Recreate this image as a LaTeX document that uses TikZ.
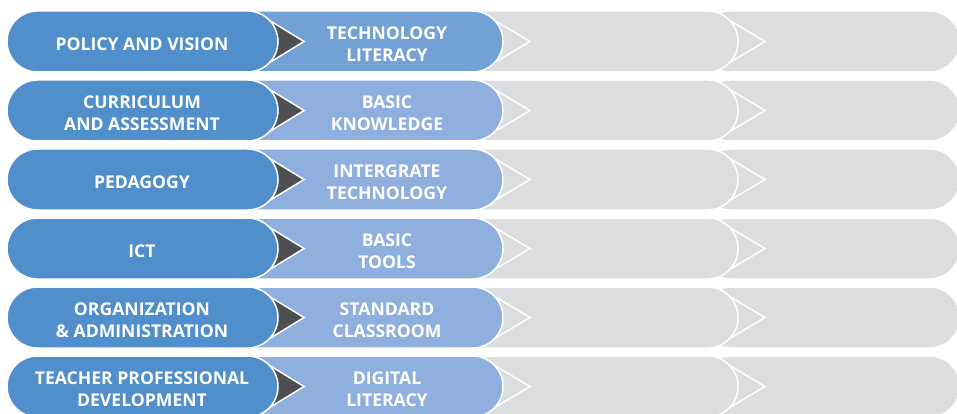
\documentclass[tikz,border=0pt]{standalone}
\usepackage{fontspec}
\setmainfont{Open Sans}

\definecolor{deepblue}{RGB}{80,142,204}
\definecolor{midblue}{RGB}{114,161,214}
\definecolor{paleblue}{RGB}{143,176,222}
\definecolor{lightgrey}{RGB}{220,221,223}
\definecolor{darkgrey}{RGB}{77,79,83}

\begin{document}
\begin{tikzpicture}[x=1pt,y=-1pt,
  pill/.style={draw=white,line width=1.5pt,rounded corners=30.5pt},
  tip/.style={draw=white,line width=1.5pt,line join=miter},
  lbl/.style={text=white,font=\bfseries\fontsize{17.6}{22}\selectfont,align=center,inner sep=0pt}]

\clip (0,0) rectangle (957,414);

\foreach \r/\mid in {0/midblue,1/paleblue,2/paleblue,3/paleblue,4/paleblue,5/paleblue}{
  \pgfmathsetmacro{\t}{11+69*\r}
  \pgfmathsetmacro{\c}{\t+30.5}
  \fill[pill,fill=lightgrey] (700,\t) rectangle (960,\t+61);
  \fill[tip,fill=lightgrey] (728,\c-22) -- (765,\c) -- (728,\c+22) -- cycle;
  \fill[pill,fill=lightgrey] (450,\t) rectangle (738,\t+61);
  \fill[tip,fill=lightgrey] (493,\c-22) -- (530,\c) -- (493,\c+22) -- cycle;
  \fill[pill,fill=\mid] (200,\t) rectangle (503,\t+61);
  \fill[tip,fill=darkgrey] (268,\c-22) -- (304,\c) -- (268,\c+22) -- cycle;
  \fill[pill,fill=deepblue] (7,\t) rectangle (278,\t+61);
}

\node[lbl] (policy) at (142,44) {POLICY AND VISION};
\node[lbl] (curric) at (142,113) {CURRICULUM\\AND ASSESSMENT};
\node[lbl] (pedag) at (142,182) {PEDAGOGY};
\node[lbl] (ict) at (142,251) {ICT};
\node[lbl] (organ) at (142,320) {ORGANIZATION\\\& ADMINISTRATION};
\node[lbl] (teacher) at (142,389) {TEACHER PROFESSIONAL\\DEVELOPMENT};

\node[lbl] (techlit) at (387,44) {TECHNOLOGY\\LITERACY};
\node[lbl] (basicknow) at (387,113) {BASIC\\KNOWLEDGE};
\node[lbl] (integr) at (387,182) {INTERGRATE\\TECHNOLOGY};
\node[lbl] (basictools) at (387,251) {BASIC\\TOOLS};
\node[lbl] (classroom) at (387,320) {STANDARD\\CLASSROOM};
\node[lbl] (digilit) at (387,389) {DIGITAL\\LITERACY};

\end{tikzpicture}
\end{document}
